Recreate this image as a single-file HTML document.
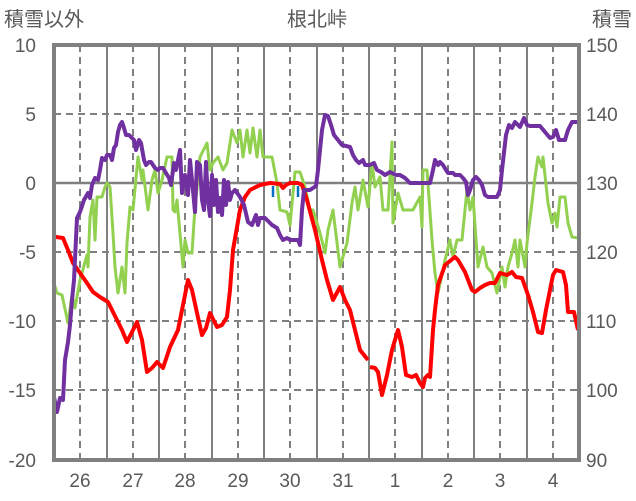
<!DOCTYPE html>
<html><head><meta charset="utf-8"><style>
html,body{margin:0;padding:0;background:#fff;}
svg{display:block;}
text{font-family:"Liberation Sans","Noto Sans CJK JP",sans-serif;fill:#595959;}
</style></head><body>
<svg width="636" height="501" viewBox="0 0 636 501" xmlns="http://www.w3.org/2000/svg">
<rect width="636" height="501" fill="#fff"/>
<g stroke="#808080" stroke-width="2" stroke-dasharray="7,5">
<line x1="54" y1="114" x2="580" y2="114"/><line x1="54" y1="252" x2="580" y2="252"/>
<line x1="54" y1="321" x2="580" y2="321"/><line x1="54" y1="390" x2="580" y2="390"/>
<line x1="80" y1="45" x2="80" y2="460"/><line x1="133" y1="45" x2="133" y2="460"/>
<line x1="185" y1="45" x2="185" y2="460"/><line x1="238" y1="45" x2="238" y2="460"/>
<line x1="290" y1="45" x2="290" y2="460"/><line x1="343" y1="45" x2="343" y2="460"/>
<line x1="395" y1="45" x2="395" y2="460"/><line x1="448" y1="45" x2="448" y2="460"/>
<line x1="500" y1="45" x2="500" y2="460"/><line x1="553" y1="45" x2="553" y2="460"/>
</g>
<g stroke="#808080" stroke-width="2">
<line x1="107" y1="45" x2="107" y2="460"/><line x1="159" y1="45" x2="159" y2="460"/>
<line x1="212" y1="45" x2="212" y2="460"/><line x1="264" y1="45" x2="264" y2="460"/>
<line x1="317" y1="45" x2="317" y2="460"/><line x1="369" y1="45" x2="369" y2="460"/>
<line x1="422" y1="45" x2="422" y2="460"/><line x1="474" y1="45" x2="474" y2="460"/>
<line x1="527" y1="45" x2="527" y2="460"/>
<line x1="54" y1="183" x2="580" y2="183" stroke-width="2.5"/>
</g>
<g fill="none" stroke-width="3" stroke-linejoin="round">
<polyline stroke="#92d050" points="53,280 57,293 62,295 68,323 72,295 75,308 80,280 87,255 88,267 90,217 93,200 95,240 97,197 102,197 105,187 107,183 110,187 113,233 115,267 118,293 122,267 125,293 127,243 130,207 133,210 138,157 142,180 143,170 148,210 152,180 155,170 158,193 162,180 167,157 172,157 173,210 175,212 177,200 183,267 185,240 188,253 192,253 195,207 198,180 200,157 207,143 210,170 213,163 218,157 223,170 227,163 232,130 237,143 240,130 243,157 247,130 250,153 253,128 257,157 260,130 263,157 272,157 277,183 280,210 287,212 290,225 295,172 300,172 305,187 310,210 313,210 317,223 320,233 325,253 328,230 333,210 340,267 347,243 352,203 355,187 358,210 363,180 368,207 372,163 375,187 380,177 383,210 388,210 392,142 393,223 398,193 403,210 413,210 420,197 422,227 423,170 427,170 432,240 435,273 438,293 445,260 450,240 453,257 457,240 462,240 467,190 470,210 473,197 478,267 483,247 487,267 492,273 497,293 502,267 505,287 508,267 512,253 515,240 518,267 520,240 525,267 527,243 532,203 535,177 538,157 542,167 543,157 548,203 552,223 555,213 557,227 560,197 565,197 568,223 572,237 578,238"/>
<polyline stroke="#ff0000" stroke-width="4" points="53,235 56,237 63,238 68,250 73,263 80,273 87,283 93,292 100,297 108,302 113,312 117,320 122,330 127,342 132,332 137,322 142,340 147,372 152,368 157,362 163,368 170,347 178,330 183,305 188,280 192,290 197,313 202,335 206,328 210,313 217,327 222,325 227,317 230,290 233,250 240,210 245,197 250,190 260,185 270,183 280,184 283,188 286,185 290,183 298,183 302,185 307,200 315,230 322,260 327,280 333,300 340,287 345,300 350,310 355,330 360,350 368,360"/>
<polyline stroke="#ff0000" stroke-width="4" points="370,367 375,368 378,372 382,395 387,375 392,350 398,330 402,347 406,375 412,377 416,375 420,383 423,387 425,378 428,375 430,377 433,330 435,310 438,285 445,265 455,257 458,260 465,272 472,290 475,292 480,288 485,285 490,283 495,283 500,273 507,275 512,272 516,277 522,278 528,295 533,312 538,332 542,333 546,310 550,290 553,275 556,270 563,272 566,285 568,312 570,312 574,312 578,330"/>
<polyline stroke="#7030a0" stroke-width="4" points="54,397 57,412 60,398 63,400 65,360 68,342 70,325 72,300 74,280 77,218 80,212 84,200 88,193 90,198 92,185 95,178 98,180 100,170 102,158 105,160 107,155 110,155 112,160 114,148 116,145 118,132 120,125 122,122 124,128 126,135 129,135 131,137 134,140 136,150 139,140 141,143 144,160 146,165 149,162 151,162 155,168 158,170 160,168 163,168 166,173 169,178 171,185 174,163 176,170 178,160 180,150 182,193 185,175 188,195 190,160 192,180 195,212 197,162 200,165 202,200 204,210 206,162 208,200 210,216 212,175 214,205 216,180 218,212 220,198 222,215 224,180 226,205 228,182 230,200 232,193 235,190 240,197 244,205 248,222 252,225 256,215 258,225 260,218 265,218 272,225 277,228 280,235 283,240 287,238 290,240 298,240 300,245 302,210 304,190 310,190 316,186 318,170 322,130 325,115 328,116 331,125 334,135 338,140 342,145 350,147 353,155 356,160 359,163 363,160 365,165 370,165 374,163 377,170 381,172 385,175 390,172 396,175 400,175 405,178 410,183 430,183 433,170 435,160 438,165 440,162 443,165 446,170 448,173 453,173 455,175 460,175 463,178 466,182 468,195 470,190 473,180 476,177 479,180 482,185 485,195 488,197 497,197 500,190 502,170 506,135 509,125 512,128 515,122 520,127 524,118 527,125 530,126 540,126 545,132 550,138 553,137 556,130 559,140 565,140 568,130 572,122 578,122"/>
</g>
<g stroke="#0070c0" stroke-width="2.5"><line x1="273" y1="186" x2="273" y2="197"/><line x1="298" y1="186" x2="298" y2="197"/></g>
<rect x="54" y="45" width="525" height="415" fill="none" stroke="#808080" stroke-width="4"/>
<g font-size="19" text-anchor="end">
<text x="36" y="52">10</text><text x="36" y="121">5</text><text x="36" y="190">0</text>
<text x="36" y="259">-5</text><text x="36" y="328">-10</text><text x="36" y="397">-15</text><text x="36" y="467">-20</text>
</g>
<g font-size="19" text-anchor="start">
<text x="586" y="52">150</text><text x="586" y="121">140</text><text x="586" y="190">130</text>
<text x="586" y="259">120</text><text x="586" y="328">110</text><text x="586" y="397">100</text><text x="586" y="467">90</text>
</g>
<g font-size="19" text-anchor="middle">
<text x="80" y="487">26</text><text x="133" y="487">27</text><text x="185" y="487">28</text><text x="238" y="487">29</text>
<text x="290" y="487">30</text><text x="343" y="487">31</text><text x="395" y="487">1</text><text x="448" y="487">2</text>
<text x="500" y="487">3</text><text x="553" y="487">4</text>
</g>
<text x="4" y="26" font-size="20">積雪以外</text>
<text x="317" y="26" font-size="20" text-anchor="middle">根北峠</text>
<text x="632" y="26" font-size="20" text-anchor="end">積雪</text>
</svg>
</body></html>
